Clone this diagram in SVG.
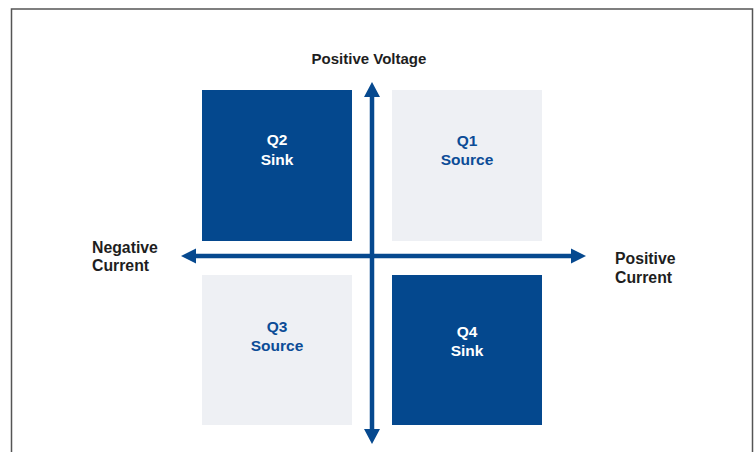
<svg xmlns="http://www.w3.org/2000/svg" width="755" height="452" viewBox="0 0 755 452">
<style>
.dark{fill:#04488e}
.light{fill:#eef0f4}
text{font-family:"Liberation Sans",Arial,sans-serif;font-weight:bold;font-size:15.5px}
.wt{fill:#ffffff;text-anchor:middle}
.bt{fill:#0b4c97;text-anchor:middle}
.lbl{fill:#1e1e1e;font-size:15px}
.side{font-size:15.8px}
.ax{stroke:#06498f;stroke-width:4.5;fill:none}
.ah{fill:#06498f}
</style>
<rect x="0" y="0" width="755" height="452" fill="#ffffff"/>
<rect x="11.5" y="9" width="741" height="460" fill="none" stroke="#555555" stroke-width="1.5"/>
<g id="q2"><rect class="dark" x="202" y="90" width="150" height="151"/><text class="wt" x="277" y="145">Q2</text><text class="wt" x="277" y="165">Sink</text></g>
<g id="q1"><rect class="light" x="392" y="90" width="150" height="151"/><text class="bt" x="467" y="146">Q1</text><text class="bt" x="467" y="165">Source</text></g>
<g id="q3"><rect class="light" x="202" y="275" width="150" height="150"/><text class="bt" x="277" y="332">Q3</text><text class="bt" x="277" y="351">Source</text></g>
<g id="q4"><rect class="dark" x="392" y="275" width="150" height="150"/><text class="wt" x="467" y="337">Q4</text><text class="wt" x="467" y="356">Sink</text></g>
<g id="connectors">
<line class="ax" x1="372" y1="94" x2="372" y2="432"/>
<polygon class="ah" points="372,82 380,97 364,97"/>
<polygon class="ah" points="372,444 380,429 364,429"/>
<line class="ax" x1="193" y1="256" x2="574" y2="256"/>
<polygon class="ah" points="181,256 196,248.5 196,263.5"/>
<polygon class="ah" points="586,256 571,248.5 571,263.5"/>
</g>
<g id="labels">
<text class="lbl" x="369" y="64" text-anchor="middle">Positive Voltage</text>
<text class="lbl side" x="92" y="253">Negative</text>
<text class="lbl side" x="92" y="271">Current</text>
<text class="lbl side" x="615" y="264">Positive</text>
<text class="lbl side" x="615" y="283">Current</text>
</g>
</svg>
